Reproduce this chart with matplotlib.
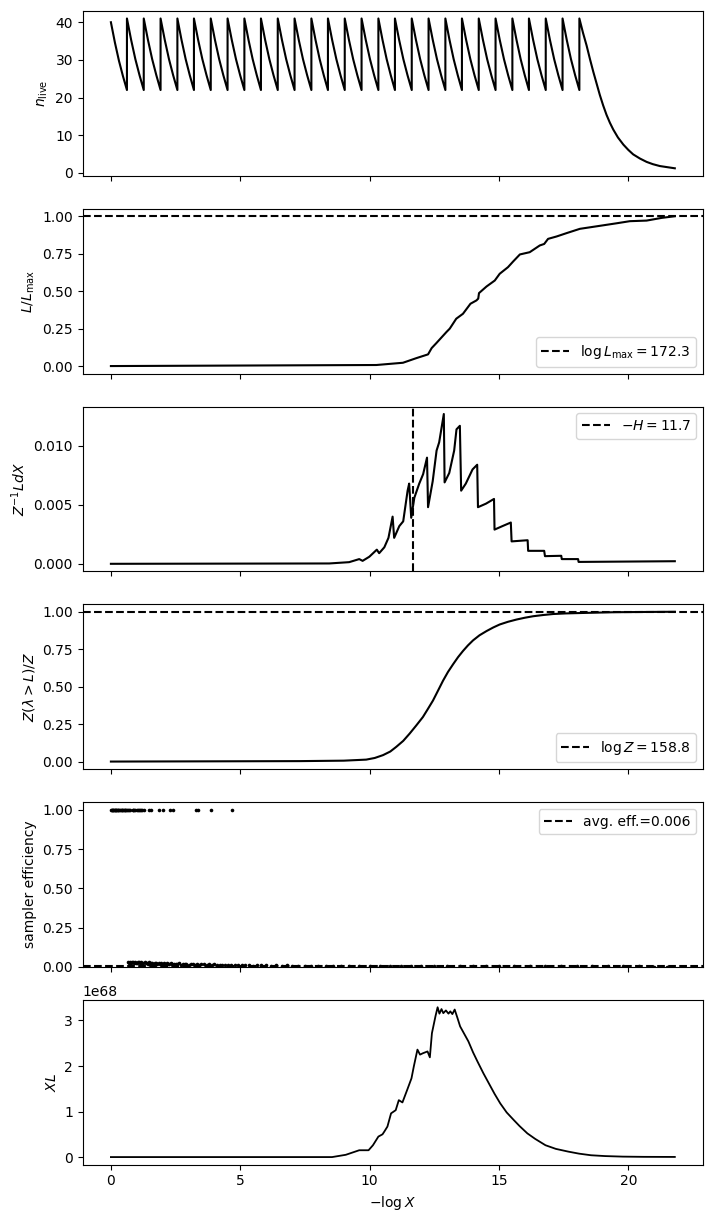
import numpy as np
import matplotlib.pyplot as plt

# n_live: resets of the live-point count (x positions), tooth shape, final decay
reset_x = [0.62, 1.27, 1.92, 2.57, 3.21, 3.86, 4.51, 5.16, 5.80, 6.45, 7.10, 7.75, 8.39, 9.04,
           9.69, 10.34, 10.98, 11.63, 12.28, 12.93, 13.57, 14.22, 14.87, 15.52, 16.16, 16.81,
           17.46, 18.11]
tooth_frac = [0.0, 0.25, 0.5, 0.75, 1.0]
first_tooth = [40, 34.6, 29.8, 25.7, 22]
tooth_vals = [41, 35.3, 30.2, 25.9, 22]
tail_x = [18.11, 18.25, 18.39, 18.52, 18.65, 18.78, 18.9, 19.03, 19.16, 19.29, 19.42, 19.6,
          19.81, 20.0, 20.19, 20.45, 20.71, 20.95, 21.22, 21.5, 21.8]
tail_n = [41, 37.2, 33.8, 30.2, 26.8, 23.6, 20.7, 17.9, 15.4, 13.3, 11.5, 9.4,
          7.5, 6.1, 4.9, 3.8, 2.9, 2.3, 1.8, 1.5, 1.2]

# L / L_max
like_x = [0.0, 7.29, 10.26, 11.29, 11.81, 12.26, 12.4, 12.58, 12.97, 13.1, 13.35, 13.61, 13.9,
          14.13, 14.2, 14.23, 14.52, 14.84, 15.03, 15.35, 15.55, 15.81, 16.19, 16.58, 16.75,
          16.9, 17.23, 17.61, 18.13, 18.9, 19.55, 20.06, 20.71, 21.29, 21.8]
like_y = [0.0, 0.005, 0.007, 0.022, 0.053, 0.078, 0.12, 0.153, 0.227, 0.25, 0.316, 0.349, 0.416,
          0.438, 0.45, 0.487, 0.531, 0.571, 0.616, 0.66, 0.698, 0.745, 0.76, 0.805, 0.815,
          0.849, 0.865, 0.887, 0.916, 0.936, 0.953, 0.967, 0.971, 0.989, 1.0]
logLmax = 172.3

# Z^-1 L dX
dz_x = [0.0, 8.44, 9.21, 9.6, 9.73, 9.99, 10.28, 10.37, 10.57, 10.73, 10.89, 10.95, 11.15, 11.3,
        11.47, 11.53, 11.61, 11.73, 11.92, 12.07, 12.22, 12.26, 12.44, 12.59, 12.69, 12.87, 12.9,
        13.08, 13.27, 13.36, 13.49, 13.54, 13.72, 13.98, 14.16, 14.19, 14.5, 14.81, 14.83, 15.14,
        15.46, 15.49, 16.11, 16.13, 16.75, 16.78, 17.41, 17.43, 18.06, 18.08, 21.8]
dz_y = [0.0, 0.00003, 0.00014, 0.0004, 0.00025, 0.0006, 0.0012, 0.0009, 0.0014, 0.0022, 0.0040,
        0.0022, 0.0032, 0.0036, 0.0062, 0.0068, 0.0039, 0.0056, 0.0068, 0.0076, 0.0090, 0.0048,
        0.0070, 0.0096, 0.0103, 0.0127, 0.0069, 0.0077, 0.0096, 0.0114, 0.0117, 0.0062, 0.0068,
        0.0080, 0.0084, 0.0048, 0.0051, 0.0055, 0.0029, 0.0032, 0.0035, 0.0019, 0.0020, 0.0011,
        0.0011, 0.00065, 0.00068, 0.0004, 0.0004, 0.00016, 0.00022]
neg_H = 11.66

# Z(lambda > L) / Z
zfrac_x = [0.0, 7.29, 9.0, 9.87, 10.2, 10.52, 10.8, 11.03, 11.3, 11.55, 11.8, 12.06, 12.25,
           12.45, 12.65, 12.84, 13.03, 13.23, 13.42, 13.61, 13.8, 14.0, 14.25, 14.52, 14.78,
           15.03, 15.35, 15.68, 16.0, 16.32, 16.7, 17.1, 17.6, 18.26, 19.5, 21.8]
zfrac_y = [0.0, 0.003, 0.006, 0.013, 0.024, 0.043, 0.067, 0.098, 0.138, 0.187, 0.24, 0.297, 0.35,
           0.407, 0.475, 0.54, 0.598, 0.65, 0.697, 0.738, 0.775, 0.809, 0.843, 0.871, 0.895,
           0.915, 0.933, 0.948, 0.96, 0.97, 0.978, 0.985, 0.989, 0.992, 0.997, 1.0]
logZ = 158.8

# sampler efficiency
eff_top_x = [0.02, 0.04, 0.06, 0.08, 0.1, 0.12, 0.14, 0.16, 0.18, 0.2, 0.23, 0.26, 0.29, 0.32,
             0.35, 0.38, 0.41, 0.44, 0.47, 0.5, 0.53, 0.56, 0.59, 0.63, 0.67, 0.71, 0.75, 0.84,
             0.87, 0.91, 0.95, 0.99, 1.03, 1.07, 1.11, 1.17, 1.22, 1.28, 1.48, 1.55, 1.84, 2.0,
             2.3, 2.39, 3.3, 3.38, 3.87, 4.68]
eff_low_x = [0.66, 0.7, 0.74, 0.78, 0.82, 0.86, 0.9, 0.94, 0.98, 1.02, 1.06, 1.1, 1.14, 1.18,
             1.22, 1.26, 1.3, 1.34, 1.38, 1.42, 1.46, 1.5, 1.55, 1.6, 1.65, 1.7, 1.75, 1.8, 1.85,
             1.9, 1.95, 2.0, 2.05, 2.1, 2.15, 2.2, 2.26, 2.32, 2.38, 2.44, 2.5, 2.57, 2.64, 2.71,
             2.78, 2.85, 2.92, 3.0, 3.08, 3.16, 3.24, 3.32, 3.4, 3.5, 3.6, 3.7, 3.8, 3.9, 4.0,
             4.1, 4.2, 4.3, 4.42, 4.54, 4.66, 4.78, 4.9, 5.05, 5.2, 5.35, 5.5, 5.65, 5.8, 6.0,
             6.2, 6.4, 6.6, 6.8, 7.0, 7.25, 7.5, 7.75, 8.0, 8.3, 8.6, 8.9, 9.2, 9.6, 10.0, 10.4,
             10.8, 11.2, 11.6, 12.0, 12.5, 13.0, 13.5, 14.0, 14.5, 15.0, 15.6, 16.2, 16.8, 17.4,
             18.0, 18.6, 19.2, 19.8, 20.4, 21.0, 21.5]
eff_low_y = [0.030, 0.027, 0.031, 0.025, 0.029, 0.032, 0.024, 0.030, 0.027, 0.022, 0.031, 0.028,
             0.025, 0.030, 0.019, 0.027, 0.029, 0.023, 0.026, 0.021, 0.028, 0.018, 0.027, 0.024,
             0.020, 0.026, 0.022, 0.017, 0.025, 0.021, 0.024, 0.019, 0.023, 0.016, 0.022, 0.020,
             0.018, 0.023, 0.015, 0.021, 0.019, 0.016, 0.022, 0.014, 0.019, 0.017, 0.020, 0.013,
             0.018, 0.016, 0.014, 0.019, 0.012, 0.017, 0.015, 0.013, 0.016, 0.011, 0.015, 0.013,
             0.012, 0.014, 0.010, 0.013, 0.011, 0.012, 0.009, 0.012, 0.010, 0.011, 0.008, 0.010,
             0.009, 0.011, 0.008, 0.009, 0.007, 0.009, 0.008, 0.007, 0.008, 0.006, 0.007, 0.006,
             0.007, 0.005, 0.006, 0.006, 0.005, 0.006, 0.005, 0.004, 0.005, 0.005, 0.004, 0.005,
             0.004, 0.004, 0.003, 0.004, 0.003, 0.003, 0.003, 0.003, 0.002, 0.002, 0.002, 0.002,
             0.002, 0.001, 0.001]
avg_eff = 0.006

# X L (units of 1e68)
xl_x = [0.0, 8.55, 9.08, 9.6, 9.96, 10.13, 10.34, 10.5, 10.57, 10.69, 10.83, 11.01, 11.13, 11.27,
        11.45, 11.62, 11.71, 11.85, 11.95, 12.06, 12.24, 12.33, 12.41, 12.55, 12.63, 12.7, 12.78,
        12.85, 12.95, 13.05, 13.12, 13.2, 13.29, 13.4, 13.5, 13.82, 14.0, 14.17, 14.4, 14.61,
        14.83, 15.05, 15.3, 15.58, 15.8, 16.1, 16.4, 16.8, 17.2, 17.68, 18.1, 18.56, 19.1,
        19.79, 20.6, 21.8]
xl_y = [0.0, 0.0, 0.05, 0.15, 0.15, 0.26, 0.45, 0.5, 0.56, 0.67, 0.96, 1.03, 1.25, 1.2, 1.47,
        1.73, 1.99, 2.36, 2.25, 2.28, 2.32, 2.19, 2.72, 3.1, 3.29, 3.15, 3.25, 3.16, 3.22, 3.15,
        3.2, 3.14, 3.24, 3.05, 2.87, 2.54, 2.3, 2.1, 1.84, 1.62, 1.39, 1.18, 0.98, 0.81, 0.68,
        0.52, 0.4, 0.26, 0.18, 0.12, 0.075, 0.04, 0.022, 0.01, 0.005, 0.003]

# build the n_live sawtooth from the reset positions
nl_x, nl_y = [], []
for f, v in zip(tooth_frac, first_tooth):
    nl_x.append(f * reset_x[0])
    nl_y.append(v)
for a, b in zip(reset_x[:-1], reset_x[1:]):
    for f, v in zip(tooth_frac, tooth_vals):
        nl_x.append(a + f * (b - a))
        nl_y.append(v)
nl_x += tail_x
nl_y += tail_n

fig, axes = plt.subplots(6, 1, sharex=True, figsize=(7.13, 12.22))
fig.subplots_adjust(left=0.116, right=0.986, top=0.991, bottom=0.047, hspace=0.2)

ax = axes[0]
ax.plot(nl_x, nl_y, color='k')
ax.set_ylabel(r'$n_{\rm live}$')

ax = axes[1]
ax.plot(like_x, like_y, color='k')
ax.axhline(1.0, color='k', ls='--', label=r'$\log L_{\rm max} = %.1f$' % logLmax)
ax.set_ylabel(r'$L/L_{\rm max}$')
ax.legend(loc='lower right')

ax = axes[2]
ax.plot(dz_x, dz_y, color='k')
ax.axvline(neg_H, color='k', ls='--', label=r'$-H = %.1f$' % neg_H)
ax.set_ylabel(r'$Z^{-1}L dX$')
ax.legend(loc='upper right')

ax = axes[3]
ax.plot(zfrac_x, zfrac_y, color='k')
ax.axhline(1.0, color='k', ls='--', label=r'$\log Z = %.1f$' % logZ)
ax.set_ylabel(r'$Z(\lambda > L)/Z$')
ax.legend(loc='lower right')

ax = axes[4]
ax.plot(eff_top_x, np.ones(len(eff_top_x)), 'o', color='k', ms=2.6, mew=0)
ax.plot(eff_low_x, eff_low_y, 'o', color='k', ms=2.6, mew=0)
ax.axhline(avg_eff, color='k', ls='--', label='avg. eff.=%.3f' % avg_eff)
ax.set_ylim(0, 1.05)
ax.set_ylabel('sampler efficiency')
ax.legend(loc='upper right')

ax = axes[5]
ax.plot(xl_x, np.array(xl_y) * 1e68, color='k', lw=1.3)
ax.set_ylabel(r'$XL$')
ax.set_xlabel(r'$-\log X$')

fig.savefig('out.png', dpi=100)
